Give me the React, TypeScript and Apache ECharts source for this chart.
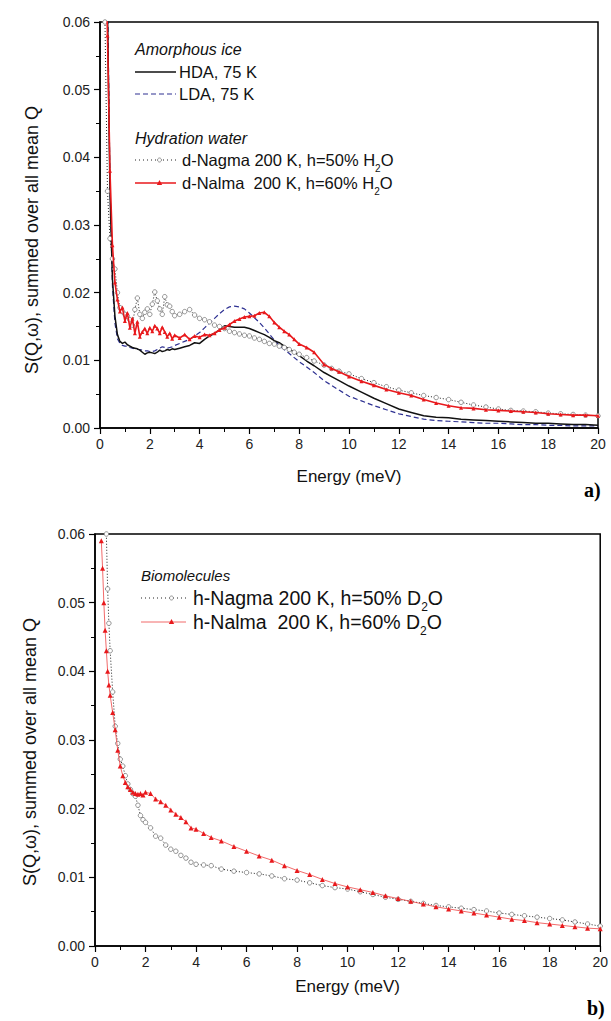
import React, { useEffect, useRef } from "react";
import * as echarts from "echarts";

const FONT = "'Liberation Sans', Arial, Helvetica, sans-serif";
const SERIF = "'Liberation Serif', 'Times New Roman', serif";

// ---------- Panel a) ----------
const E_A = [
  0.2, 0.3, 0.4, 0.5, 0.6, 0.7, 0.8, 0.9, 1.0, 1.1, 1.2, 1.3, 1.4, 1.5, 1.6, 1.7, 1.8, 1.9, 2.0,
  2.1, 2.2, 2.3, 2.4, 2.5, 2.6, 2.7, 2.8, 2.9, 3.0,
  3.2, 3.4, 3.6, 3.8, 4.0, 4.2, 4.4, 4.6, 4.8, 5.0, 5.2, 5.4, 5.6, 5.8, 6.0, 6.2, 6.4, 6.6, 6.8,
  7.0, 7.2, 7.4, 7.6, 7.8, 8.0,
  8.3, 8.6, 9.0, 9.3, 9.6, 10.0,
  10.5, 11.0, 11.5, 12.0, 12.5, 13.0, 13.5, 14.0, 14.5, 15.0, 15.5, 16.0, 16.5, 17.0, 17.5, 18.0,
  18.5, 19.0, 19.5, 20.0,
];

const HDA_A = [
  0.09, 0.062, 0.035, 0.022, 0.0165, 0.0138, 0.0128, 0.0125, 0.0127, 0.0123, 0.0121, 0.0119, 0.0118,
  0.0117, 0.0115, 0.0112, 0.0109, 0.0111, 0.0112,
  0.0111, 0.011, 0.0112, 0.0115, 0.0113, 0.0114, 0.0116, 0.0115, 0.0117, 0.0116,
  0.0118, 0.012, 0.0122, 0.0126, 0.0125, 0.0131, 0.0136, 0.014, 0.0145, 0.0151, 0.015, 0.0149, 0.0149,
  0.0149, 0.0147, 0.0144, 0.0141, 0.0138, 0.0134,
  0.0129, 0.0126, 0.0121, 0.0117, 0.0112, 0.0107,
  0.0099, 0.0092, 0.0082, 0.0076, 0.0070, 0.0062,
  0.0053, 0.0044, 0.0036, 0.0028, 0.0023, 0.0018, 0.0016, 0.0015, 0.0013, 0.0012, 0.0011, 0.001,
  0.0009, 0.0008, 0.0007, 0.0007, 0.0006, 0.0005, 0.0005, 0.0004,
];

const LDA_A = [
  0.09, 0.065, 0.036, 0.021, 0.0155, 0.0132, 0.0125, 0.0122, 0.0121, 0.0121, 0.0119, 0.0118, 0.0117,
  0.0116, 0.0116, 0.0115, 0.0114, 0.0114, 0.0113,
  0.0113, 0.0114, 0.0116, 0.0118, 0.012, 0.0119, 0.0118, 0.0119, 0.012, 0.0122,
  0.0125, 0.0128, 0.0131, 0.0136, 0.0141, 0.0148, 0.0155, 0.0162, 0.0169, 0.0175, 0.0179, 0.018,
  0.0179, 0.0176, 0.017, 0.0163, 0.0156, 0.0148, 0.0139,
  0.013, 0.0122, 0.0116, 0.011, 0.0104, 0.0098,
  0.009, 0.0082, 0.007, 0.0063, 0.0056, 0.0047,
  0.004, 0.0033, 0.0027, 0.0021, 0.0017, 0.0013, 0.0011, 0.001, 0.0009, 0.0008, 0.0007, 0.0007,
  0.0006, 0.0005, 0.0005, 0.0004, 0.0004, 0.0003, 0.0003, 0.0003,
];

const NAGMA_A = [
  0.06, 0.035, 0.028, 0.025, 0.0235, 0.02, 0.0178, 0.0172, 0.0168, 0.0165, 0.016, 0.0152, 0.0175,
  0.0192, 0.0168, 0.0162, 0.0171, 0.0176, 0.0168,
  0.0183, 0.0201, 0.0188, 0.0176, 0.0168, 0.0194, 0.0182, 0.018, 0.0172, 0.0166,
  0.0168, 0.0172, 0.0175, 0.0167, 0.0162, 0.016, 0.0157, 0.0152, 0.015, 0.0147, 0.0143, 0.0141,
  0.0139, 0.0137, 0.0136, 0.0133, 0.0131, 0.0128, 0.0125,
  0.0124, 0.0121, 0.0119, 0.0116, 0.0112, 0.0109,
  0.0104, 0.0099, 0.0093, 0.0088, 0.0084, 0.008,
  0.0073, 0.0067, 0.0061, 0.0056, 0.0052, 0.0048, 0.0045, 0.0042, 0.0038, 0.0034, 0.0031, 0.0028,
  0.0026, 0.0025, 0.0024, 0.0022, 0.0021, 0.002, 0.0019, 0.0018,
];

const NALMA_A = [
  0.075, 0.058, 0.038, 0.027, 0.0215, 0.019, 0.0172, 0.0178, 0.0158, 0.017, 0.0148, 0.0162, 0.014,
  0.0157, 0.0135, 0.0142, 0.0147, 0.014, 0.0148,
  0.0143, 0.0151, 0.0147, 0.014, 0.0149, 0.0142, 0.0135, 0.014, 0.0132, 0.0137,
  0.0133, 0.0138, 0.0131, 0.0136, 0.0134, 0.0138, 0.0137, 0.014, 0.0145, 0.0148, 0.0153, 0.0158,
  0.0161, 0.0164, 0.0165, 0.0166, 0.017, 0.0171, 0.0165,
  0.0156, 0.0149, 0.0143, 0.0138, 0.0131, 0.0124,
  0.0119, 0.0112, 0.0094, 0.0088, 0.0083, 0.0076,
  0.0069, 0.0063, 0.0057, 0.0052, 0.0048, 0.0042, 0.0037, 0.0033, 0.003, 0.0029, 0.0027, 0.0026,
  0.0025, 0.0024, 0.0023, 0.0021, 0.002, 0.0019, 0.0019, 0.0018,
];

// ---------- Panel b) ----------
const E_B = [
  0.25, 0.3, 0.35, 0.4, 0.45, 0.5, 0.55, 0.6, 0.7, 0.8, 0.9, 1.0, 1.1, 1.2, 1.3, 1.4, 1.5, 1.6,
  1.7, 1.8, 1.9, 2.0, 2.2, 2.4, 2.6, 2.8, 3.0, 3.2, 3.4, 3.6, 3.8, 4.0, 4.3, 4.6, 5.0, 5.5, 6.0,
  6.5, 7.0, 7.5, 8.0, 8.5, 9.0, 9.5, 10.0, 10.5, 11.0, 11.5, 12.0, 12.5, 13.0, 13.5, 14.0, 14.5,
  15.0, 15.5, 16.0, 16.5, 17.0, 17.5, 18.0, 18.5, 19.0, 19.5, 20.0,
];

const NAGMA_B = [
  null, null, null, 0.066, 0.06, 0.052, 0.047, 0.043, 0.037, 0.032, 0.0295, 0.0272, 0.0262, 0.0248,
  0.0236, 0.0228, 0.0222, 0.0218, 0.0205, 0.019, 0.0184, 0.018, 0.0172, 0.016, 0.0157, 0.0147,
  0.0141, 0.0138, 0.0132, 0.0128, 0.0122, 0.0119, 0.0118, 0.0117, 0.0112, 0.0109, 0.0107, 0.0105,
  0.0102, 0.0098, 0.0096, 0.0092, 0.0088, 0.0085, 0.0083, 0.0079, 0.0075, 0.0071, 0.0068, 0.0065,
  0.0062, 0.0059, 0.0057, 0.0055, 0.0053, 0.0051, 0.0048, 0.0046, 0.0044, 0.0042, 0.004, 0.0038,
  0.0035, 0.0032, 0.0029,
];

const NALMA_B = [
  0.059, 0.055, 0.05, 0.046, 0.043, 0.04, 0.038, 0.0365, 0.034, 0.0315, 0.0285, 0.0262, 0.0248,
  0.0238, 0.0232, 0.0228, 0.0224, 0.0222, 0.0221, 0.0222, 0.022, 0.0224, 0.0222, 0.0214, 0.021,
  0.0205, 0.0198, 0.0192, 0.0187, 0.0181, 0.0172, 0.017, 0.0164, 0.0158, 0.0153, 0.0145, 0.0138,
  0.0131, 0.0125, 0.0117, 0.011, 0.0104, 0.0097, 0.0091, 0.0086, 0.0082, 0.0078, 0.0073, 0.0069,
  0.0065, 0.0061, 0.0057, 0.0054, 0.0051, 0.0048, 0.0045, 0.0042, 0.0039, 0.0037, 0.0034, 0.0032,
  0.003, 0.0028, 0.0026, 0.0025,
];

const X_MIN = 0;
const X_MAX = 20;
const X_STEP = 2;
const Y_MIN = 0;
const Y_MAX = 0.06;
const Y_STEP = 0.01;

const Y_TITLE = "S(Q,\u03c9), summed over all mean Q";
const X_TITLE = "Energy (meV)";

const zip = (xs: number[], ys: (number | null)[]) =>
  xs.map((x, i) => [x, ys[i] == null ? "-" : ys[i]]);

const RED = "#e8191c";

function xAxis(gridIndex: number, nameGap: number) {
  return {
    type: "value",
    gridIndex,
    min: X_MIN,
    max: X_MAX,
    interval: X_STEP,
    name: X_TITLE,
    nameLocation: "middle",
    nameGap,
    nameTextStyle: { fontFamily: FONT, fontSize: 17, color: "#111" },
    axisLine: { show: true, onZero: false, lineStyle: { color: "#000", width: 1.5 } },
    axisTick: { show: true, length: 6, lineStyle: { color: "#000", width: 1.2 } },
    minorTick: { show: true, splitNumber: 2, length: 4, lineStyle: { color: "#000", width: 1 } },
    splitLine: { show: false },
    axisLabel: { fontFamily: FONT, fontSize: 14, color: "#222", margin: 9 },
  };
}

function yAxis(gridIndex: number) {
  return {
    type: "value",
    gridIndex,
    min: Y_MIN,
    max: Y_MAX,
    interval: Y_STEP,
    axisLine: { show: true, onZero: false, lineStyle: { color: "#000", width: 1.5 } },
    axisTick: { show: true, length: 6, lineStyle: { color: "#000", width: 1.2 } },
    minorTick: { show: true, splitNumber: 2, length: 4, lineStyle: { color: "#000", width: 1 } },
    splitLine: { show: false },
    axisLabel: {
      fontFamily: FONT,
      fontSize: 14,
      color: "#222",
      margin: 10,
      formatter: (v: number) => v.toFixed(2),
    },
  };
}

const subRich = (fs: number) => ({
  n: { fontFamily: FONT, fontSize: fs, fill: "#111", lineHeight: fs + 10, verticalAlign: "middle" },
  s: { fontFamily: FONT, fontSize: Math.round(fs * 0.62), fill: "#111", lineHeight: Math.round(fs * 0.7), verticalAlign: "bottom" },
});

function tri(cx: number, cy: number, r: number, fill: string) {
  return {
    type: "polygon",
    shape: { points: [[cx, cy - r], [cx + r * 0.9, cy + r * 0.7], [cx - r * 0.9, cy + r * 0.7]] },
    style: { fill },
  };
}

function yTitle(x: number, y: number) {
  return {
    type: "text",
    x,
    y,
    rotation: Math.PI / 2,
    style: {
      text: Y_TITLE,
      fontFamily: FONT,
      fontSize: 18,
      fill: "#111",
      align: "center",
      verticalAlign: "middle",
    },
  };
}

export default function App() {
  const ref = useRef<HTMLDivElement>(null);

  useEffect(() => {
    document.body.style.margin = "0";
    if (!ref.current) return;
    const chart = echarts.init(ref.current, undefined, { renderer: "svg" });

    const lx1 = 135;
    const lx2 = 176;
    const bx1 = 141;
    const bx2 = 186;

    const option: any = {
      animation: false,
      backgroundColor: "#fff",
      grid: [
        { left: 100, top: 22, width: 498, height: 406, show: true, borderColor: "#000", borderWidth: 1.5, backgroundColor: "transparent" },
        { left: 95, top: 534, width: 507, height: 412, show: true, borderColor: "#000", borderWidth: 1.5, backgroundColor: "transparent" },
      ],
      xAxis: [xAxis(0, 40), xAxis(1, 32)],
      yAxis: [yAxis(0), yAxis(1)],
      series: [
        {
          name: "LDA, 75 K",
          type: "line",
          xAxisIndex: 0,
          yAxisIndex: 0,
          data: zip(E_A, LDA_A),
          showSymbol: false,
          silent: true,
          lineStyle: { color: "#2e3192", width: 1.2, type: [5, 3] },
          z: 2,
        },
        {
          name: "HDA, 75 K",
          type: "line",
          xAxisIndex: 0,
          yAxisIndex: 0,
          data: zip(E_A, HDA_A),
          showSymbol: false,
          silent: true,
          lineStyle: { color: "#111", width: 1.5 },
          z: 3,
        },
        {
          name: "d-Nagma 200 K, h=50% H2O",
          type: "line",
          xAxisIndex: 0,
          yAxisIndex: 0,
          data: zip(E_A, NAGMA_A),
          symbol: "circle",
          symbolSize: 4.5,
          showAllSymbol: true,
          silent: true,
          itemStyle: { color: "#fff", borderColor: "#777", borderWidth: 0.8 },
          lineStyle: { color: "#222", width: 1, type: [1, 2] },
          z: 4,
        },
        {
          name: "d-Nalma 200 K, h=60% H2O",
          type: "line",
          xAxisIndex: 0,
          yAxisIndex: 0,
          data: zip(E_A, NALMA_A),
          symbol: "triangle",
          symbolSize: 4,
          showAllSymbol: true,
          silent: true,
          itemStyle: { color: RED },
          lineStyle: { color: RED, width: 1.6 },
          z: 5,
        },
        {
          name: "h-Nagma 200 K, h=50% D2O",
          type: "line",
          xAxisIndex: 1,
          yAxisIndex: 1,
          data: zip(E_B, NAGMA_B),
          symbol: "circle",
          symbolSize: 4.5,
          showAllSymbol: true,
          silent: true,
          itemStyle: { color: "#fff", borderColor: "#777", borderWidth: 0.8 },
          lineStyle: { color: "#222", width: 1, type: [1, 2] },
          z: 4,
        },
        {
          name: "h-Nalma 200 K, h=60% D2O",
          type: "line",
          xAxisIndex: 1,
          yAxisIndex: 1,
          data: zip(E_B, NALMA_B),
          symbol: "triangle",
          symbolSize: 5,
          showAllSymbol: true,
          silent: true,
          itemStyle: { color: RED },
          lineStyle: { color: "#ee4444", width: 0.8 },
          z: 5,
        },
      ],
      graphic: [
        yTitle(32, 240),
        yTitle(30, 752),
        // legend panel a
        { type: "text", x: lx1, y: 49, style: { text: "Amorphous ice", fontFamily: FONT, fontStyle: "italic", fontSize: 16, fill: "#111", verticalAlign: "middle" } },
        { type: "line", shape: { x1: lx1, y1: 72, x2: lx2, y2: 72 }, style: { stroke: "#111", lineWidth: 1.5 } },
        { type: "text", x: lx2 + 3, y: 72, style: { text: "HDA, 75 K", fontFamily: FONT, fontSize: 16.5, fill: "#111", verticalAlign: "middle" } },
        { type: "line", shape: { x1: lx1, y1: 94, x2: lx2, y2: 94 }, style: { stroke: "#2e3192", lineWidth: 1.2, lineDash: [5, 3] } },
        { type: "text", x: lx2 + 3, y: 94, style: { text: "LDA, 75 K", fontFamily: FONT, fontSize: 16.5, fill: "#111", verticalAlign: "middle" } },
        { type: "text", x: lx1, y: 138, style: { text: "Hydration water", fontFamily: FONT, fontStyle: "italic", fontSize: 16, fill: "#111", verticalAlign: "middle" } },
        { type: "line", shape: { x1: lx1, y1: 160, x2: lx2, y2: 160 }, style: { stroke: "#222", lineWidth: 1, lineDash: [1, 3] } },
        { type: "circle", shape: { cx: (lx1 + lx2) / 2 + 4, cy: 160, r: 2 }, style: { fill: "#fff", stroke: "#777", lineWidth: 0.8 } },
        { type: "text", x: lx2 + 6, y: 160, style: { text: "{n|d-Nagma 200 K, h=50% H}{s|2}{n|O}", rich: subRich(16.5), verticalAlign: "middle" } },
        { type: "line", shape: { x1: lx1, y1: 183, x2: lx2, y2: 183 }, style: { stroke: RED, lineWidth: 1.6 } },
        tri((lx1 + lx2) / 2 + 4, 183, 3, RED),
        { type: "text", x: lx2 + 6, y: 183, style: { text: "{n|d-Nalma  200 K, h=60% H}{s|2}{n|O}", rich: subRich(16.5), verticalAlign: "middle" } },
        { type: "text", x: 584, y: 490, style: { text: "a)", fontFamily: SERIF, fontWeight: "bold", fontSize: 20, fill: "#000", verticalAlign: "middle" } },
        // legend panel b
        { type: "text", x: bx1, y: 575, style: { text: "Biomolecules", fontFamily: FONT, fontStyle: "italic", fontSize: 15, fill: "#111", verticalAlign: "middle" } },
        { type: "line", shape: { x1: bx1, y1: 598, x2: bx2, y2: 598 }, style: { stroke: "#222", lineWidth: 1, lineDash: [1, 3] } },
        { type: "circle", shape: { cx: (bx1 + bx2) / 2 + 8, cy: 598, r: 2 }, style: { fill: "#fff", stroke: "#777", lineWidth: 0.8 } },
        { type: "text", x: bx2 + 7, y: 598, style: { text: "{n|h-Nagma 200 K, h=50% D}{s|2}{n|O}", rich: subRich(19.5), verticalAlign: "middle" } },
        { type: "line", shape: { x1: bx1, y1: 622, x2: bx2, y2: 622 }, style: { stroke: "#ee4444", lineWidth: 0.8 } },
        tri((bx1 + bx2) / 2 + 8, 622, 3, RED),
        { type: "text", x: bx2 + 7, y: 622, style: { text: "{n|h-Nalma  200 K, h=60% D}{s|2}{n|O}", rich: subRich(19.5), verticalAlign: "middle" } },
        { type: "text", x: 587, y: 1008, style: { text: "b)", fontFamily: SERIF, fontWeight: "bold", fontSize: 20, fill: "#000", verticalAlign: "middle" } },
      ],
    };

    chart.setOption(option);
    return () => chart.dispose();
  }, []);

  return <div ref={ref} style={{ width: 611, height: 1021 }} />;
}
